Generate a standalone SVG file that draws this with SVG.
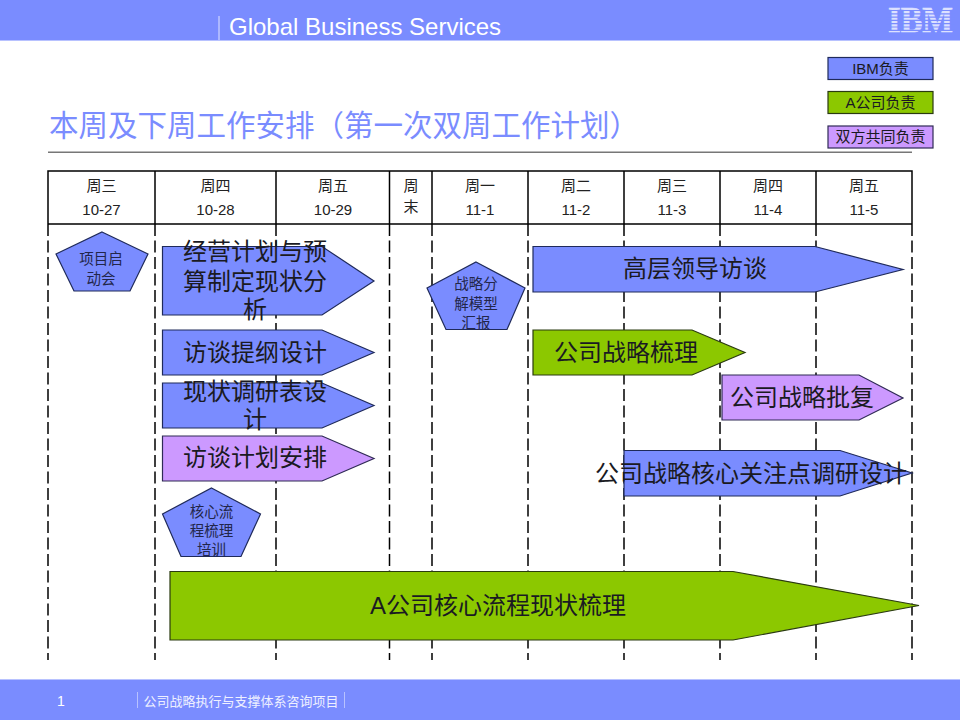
<svg xmlns="http://www.w3.org/2000/svg" width="960" height="720" viewBox="0 0 960 720">
<style>
text{font-family:"Liberation Sans","Noto Sans CJK SC",sans-serif;fill:#1a1a22;text-anchor:middle}
.b{fill:#7a8cff;stroke:#1f2a5a;stroke-width:1.2}
.g{fill:#8cc800;stroke:#2a3a10;stroke-width:1.2}
.p{fill:#cc99ff;stroke:#2f2a55;stroke-width:1.2}
.big{font-size:24px}
.sm{font-size:14.500px;fill:#22264a}
.lg{font-size:15px}
.hd{font-size:15px;fill:#222}
.t{fill:none;stroke:#000;stroke-width:1.5}
.d{fill:none;stroke:#000;stroke-width:1.5;stroke-dasharray:12 4.500}
</style>
<rect width="960" height="40" fill="#7a8cff"/>
<rect y="40" width="960" height="1" fill="#b8c2ff"/>
<rect y="680" width="960" height="40" fill="#7a8cff"/>
<rect y="679" width="960" height="1" fill="#b8c2ff"/>
<rect x="218.500" y="16" width="1" height="24" fill="#dfe3ff"/>
<text x="229" y="35" style="font-size:24px;fill:#fff;text-anchor:start">Global Business Services</text>
<g id="logo">
<text x="920.500" y="32" style="font-family:'Liberation Serif',serif;font-weight:bold;font-size:36px;fill:#dde1ff;stroke:#dde1ff;stroke-width:.6" textLength="65" lengthAdjust="spacingAndGlyphs">IBM</text>
<path d="M886 10.500H955M886 13.800H955M886 17.100H955M886 20.400H955M886 23.700H955M886 27H955M886 30.300H955" stroke="#7a8cff" stroke-width="1.200"/>
</g>
<text x="49" y="136" style="font-size:29.500px;fill:#7a8cff;text-anchor:start">本周及下周工作安排（第一次双周工作计划）</text>
<rect x="48" y="151.500" width="864" height="1.500" fill="#777"/>
<g id="legend">
<g id="legend-ibm"><rect class="b" x="828" y="57.500" width="105" height="22"/><text class="lg" x="880.500" y="74">IBM负责</text></g>
<g id="legend-a"><rect class="g" x="828" y="91.500" width="105" height="22"/><text class="lg" x="880.500" y="108">A公司负责</text></g>
<g id="legend-both"><rect class="p" x="828" y="126" width="105" height="22"/><text class="lg" x="880.500" y="142">双方共同负责</text></g>
</g>
<g id="grid">
<path class="t" d="M48 224V171H912V224M48 224H912M155 171V224M276 171V224M389.500 171V224M432 171V224M528 171V224M624 171V224M720 171V224M816 171V224"/>
<path class="d" d="M48 224V660M155 224V660M276 224V660M389.500 224V660M432 224V660M528 224V660M624 224V660M720 224V660M816 224V660M912 224V660"/>
<text class="hd" x="101.500" y="191">周三</text><text class="hd" x="101.500" y="215">10-27</text>
<text class="hd" x="215.500" y="191">周四</text><text class="hd" x="215.500" y="215">10-28</text>
<text class="hd" x="333" y="191">周五</text><text class="hd" x="333" y="215">10-29</text>
<text class="hd" x="411" y="191">周</text><text class="hd" x="411" y="212">末</text>
<text class="hd" x="480" y="191">周一</text><text class="hd" x="480" y="215">11-1</text>
<text class="hd" x="576" y="191">周二</text><text class="hd" x="576" y="215">11-2</text>
<text class="hd" x="672" y="191">周三</text><text class="hd" x="672" y="215">11-3</text>
<text class="hd" x="768" y="191">周四</text><text class="hd" x="768" y="215">11-4</text>
<text class="hd" x="864" y="191">周五</text><text class="hd" x="864" y="215">11-5</text>
</g>
<g id="n1"><polygon class="b" points="102,232 148,254 130,291 74,291 56,254"/><text class="sm" x="101" y="264">项目启</text><text class="sm" x="101" y="284">动会</text></g>
<g id="n2"><polygon class="b" points="162.500,246.500 322,246.500 374,281 322,315 162.500,315"/><text class="big" x="255" y="260">经营计划与预</text><text class="big" x="255" y="290">算制定现状分</text><text class="big" x="255" y="318">析</text></g>
<g id="n3"><polygon class="b" points="162.500,330 322,330 374,352.500 322,375 162.500,375"/><text class="big" x="255" y="361">访谈提纲设计</text></g>
<g id="n4"><polygon class="b" points="162.500,383 322,383 374,405.500 322,428 162.500,428"/><text class="big" x="255" y="400">现状调研表设</text><text class="big" x="255" y="428">计</text></g>
<g id="n5"><polygon class="p" points="162.500,436 322,436 374,458.500 322,481 162.500,481"/><text class="big" x="255" y="466">访谈计划安排</text></g>
<g id="n6"><polygon class="b" points="211.500,488 260.500,514 241,556.500 181,556.500 162.500,514"/><text class="sm" x="211.500" y="517">核心流</text><text class="sm" x="211.500" y="536">程梳理</text><text class="sm" x="211.500" y="555">培训</text></g>
<g id="n7"><polygon class="b" points="476,262 525,288 507,329.500 446,329.500 427,288"/><text class="sm" x="476" y="289">战略分</text><text class="sm" x="476" y="309">解模型</text><text class="sm" x="476" y="328">汇报</text></g>
<g id="n8"><polygon class="b" points="533,246.500 815,246.500 903,269.500 815,292 533,292"/><text class="big" x="695" y="277">高层领导访谈</text></g>
<g id="n9"><polygon class="g" points="533,330 692,330 745,352.500 692,375 533,375"/><text class="big" x="626" y="361">公司战略梳理</text></g>
<g id="n10"><polygon class="p" points="722,375 859,375 903,398 859,420 722,420"/><text class="big" x="802" y="406">公司战略批复</text></g>
<g id="n11"><polygon class="b" points="624,450.500 840,450.500 912,473 840,496 624,496"/><text class="big" x="751" y="482">公司战略核心关注点调研设计</text></g>
<g id="n12"><polygon class="g" points="170,571.500 733,571.500 919,605.500 733,640 170,640"/><text class="big" x="498" y="614">A公司核心流程现状梳理</text></g>
<text x="61" y="706" style="font-size:14px;fill:#fff">1</text>
<rect x="137" y="692" width="1" height="16" fill="#b8c2ff"/>
<rect x="344" y="692" width="1" height="16" fill="#b8c2ff"/>
<text x="241" y="706" style="font-size:13px;fill:#eef0ff">公司战略执行与支撑体系咨询项目</text>
</svg>
